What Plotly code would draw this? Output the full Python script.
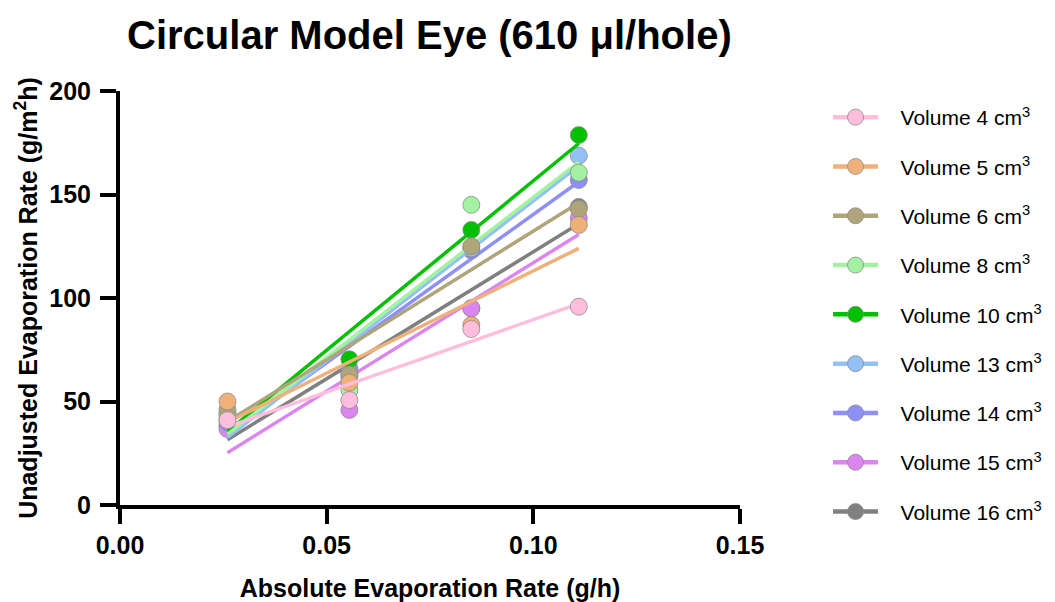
import numpy as np
import plotly.graph_objects as go

# Absolute evaporation rate (g/h) measured at four conditions
rate_abs = [0.026, 0.0555, 0.085, 0.111]

volumes = ["4", "5", "6", "8", "10", "13", "14", "15", "16"]

# Unadjusted evaporation rate (g/m^2 h) for each volume
vol_4 = [41, 50.7, 85, 95.8]
vol_5 = [50, 59.1, 87, 135.3]
vol_6 = [46, 63, 125, 143]
vol_8 = [44, 55.6, 145, 160.5]
vol_10 = [44, 70.4, 132.9, 178.7]
vol_13 = [42, 63.7, 124, 168.7]
vol_14 = [40, 66, 123, 157]
vol_15 = [36.7, 45.9, 95, 138.6]
vol_16 = [38, 62, 95, 144]

series = [vol_4, vol_5, vol_6, vol_8, vol_10, vol_13, vol_14, vol_15, vol_16]
colors = ["#FFBEDC", "#EFB07A", "#AFA47A", "#A2F2A2", "#00C000",
          "#94C0F5", "#8F8FF8", "#DB86F0", "#808080"]

fig = go.Figure()
outline = dict(color="rgba(140,140,140,0.8)", width=1)

# Draw larger volumes first so smaller volumes sit on top
for i in reversed(range(len(volumes))):
    y = np.array(series[i], dtype=float)
    x = np.array(rate_abs, dtype=float)
    slope, intercept = np.polyfit(x, y, 1)
    xf = np.array([x.min(), x.max()])
    yf = slope * xf + intercept
    grp = "v" + volumes[i]
    fig.add_trace(go.Scatter(
        x=xf, y=yf, mode="lines", legendgroup=grp, showlegend=False,
        line=dict(color=colors[i], width=3.5), hoverinfo="skip"))
    fig.add_trace(go.Scatter(
        x=x, y=y, mode="markers", legendgroup=grp, showlegend=False,
        marker=dict(color=colors[i], size=17, line=outline)))
    # legend entry: line with marker
    fig.add_trace(go.Scatter(
        x=[None], y=[None], mode="lines+markers", legendgroup=grp,
        legendrank=i + 1,
        name=f"&nbsp;&nbsp;&nbsp;Volume {volumes[i]} cm<sup>3</sup>",
        line=dict(color=colors[i], width=4.5),
        marker=dict(color=colors[i], size=17, line=outline)))

axis_font = dict(family="Arial", size=25, color="black")

fig.update_layout(
    width=1055, height=602,
    margin=dict(l=120, r=315, t=91, b=97, autoexpand=False),
    paper_bgcolor="white", plot_bgcolor="white",
    title=dict(text="<b>Circular Model Eye (610 μl/hole)</b>",
               font=dict(family="Arial", size=40, color="black"),
               x=0.407, xanchor="center", y=0.942, yanchor="middle"),
    font=dict(family="Arial", color="black"),
    showlegend=True,
    legend=dict(traceorder="grouped", tracegroupgap=19, maxheight=560,
                x=1.142, xanchor="left", y=0.9855, yanchor="top",
                font=dict(family="Arial", size=21, color="black"),
                itemwidth=45, bgcolor="rgba(0,0,0,0)"),
    xaxis=dict(range=[0, 0.15], tickvals=[0, 0.05, 0.10, 0.15],
               ticktext=["<b>0.00</b>", "<b>0.05</b>", "<b>0.10</b>", "<b>0.15</b>"],
               showline=True, linecolor="black", linewidth=4,
               ticks="outside", ticklen=15, tickwidth=4, tickcolor="black",
               ticklabelstandoff=0, automargin=False,
               showgrid=False, zeroline=False, tickfont=axis_font,
               title=dict(text="<b>Absolute Evaporation Rate (g/h)</b>",
                          font=axis_font, standoff=23)),
    yaxis=dict(range=[0, 200], tickvals=[0, 50, 100, 150, 200],
               ticktext=["<b>0</b>", "<b>50</b>", "<b>100</b>", "<b>150</b>", "<b>200</b>"],
               showline=True, linecolor="black", linewidth=4,
               ticks="outside", ticklen=16, tickwidth=4, tickcolor="black",
               ticklabelstandoff=4, automargin=False,
               showgrid=False, zeroline=False, tickfont=axis_font,
               title=dict(text="<b>Unadjusted Evaporation Rate (g/m<sup>2</sup>h)</b>",
                          font=axis_font, standoff=6)),
)

fig.write_html("out.html")
